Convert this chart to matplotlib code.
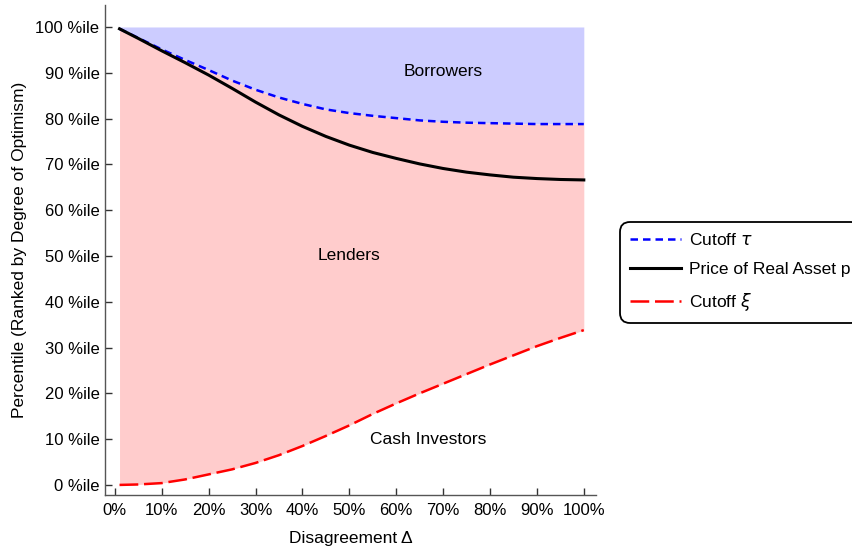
import matplotlib
matplotlib.use("Agg")
import matplotlib.pyplot as plt
import numpy as np

plt.rcParams['font.family'] = ['Liberation Sans', 'DejaVu Sans']

# Disagreement (%)
disagreement = [1, 5, 10, 15, 20, 25, 30, 35, 40, 45, 50, 55, 60, 65, 70, 75, 80, 85, 90, 95, 100]
# Cutoff tau (percentile)
cutoff_tau = [99.6, 97.6, 95.1, 92.8, 90.6, 88.3, 86.3, 84.6, 83.2, 82.0, 81.2, 80.6, 80.1, 79.6,
              79.3, 79.1, 79.0, 78.9, 78.8, 78.8, 78.8]
# Price of real asset p (percentile)
price_p = [99.6, 97.5, 94.8, 92.2, 89.5, 86.6, 83.6, 80.8, 78.3, 76.1, 74.2, 72.6, 71.3, 70.1,
           69.1, 68.3, 67.7, 67.2, 66.9, 66.7, 66.6]
# Cutoff xi (percentile)
cutoff_xi = [0.0, 0.1, 0.4, 1.2, 2.3, 3.4, 4.8, 6.5, 8.5, 10.7, 13.0, 15.5, 17.8, 20.0,
             22.1, 24.2, 26.3, 28.3, 30.3, 32.1, 33.8]

x_ticks = [0, 10, 20, 30, 40, 50, 60, 70, 80, 90, 100]
x_ticklabels = [f"{v}%" for v in x_ticks]
y_ticks = [0, 10, 20, 30, 40, 50, 60, 70, 80, 90, 100]
y_ticklabels = [f"{v} %ile" for v in y_ticks]

fig = plt.figure(figsize=(8.52, 5.48), dpi=100)
ax = fig.add_axes([105/852, 1-495/548, (596-105)/852, (495-5)/548])

x = np.array(disagreement)
tau = np.array(cutoff_tau)
p = np.array(price_p)
xi = np.array(cutoff_xi)

ax.fill_between(x, tau, 100, color='#ccccff', linewidth=0)
ax.fill_between(x, xi, tau, color='#ffcccc', linewidth=0)

l1, = ax.plot(x, tau, color='#0000ff', lw=1.8, linestyle=(0, (3.0, 2.0)), label=r'Cutoff $\tau$')
l2, = ax.plot(x, p, color='black', lw=2.2, label='Price of Real Asset p')
l3, = ax.plot(x, xi, color='#ff0000', lw=1.8, linestyle=(0, (7.5, 2.3)), label=r'Cutoff $\xi$')

ax.text(70, 90.3, 'Borrowers', ha='center', va='center', fontsize=12.5)
ax.text(50, 50.1, 'Lenders', ha='center', va='center', fontsize=12.5)
ax.text(66.8, 10, 'Cash Investors', ha='center', va='center', fontsize=12.5)

ax.set_xlim(-2.1, 102.6)
ax.set_ylim(-2.2, 104.8)
ax.set_xticks(x_ticks)
ax.set_xticklabels(x_ticklabels)
ax.set_yticks(y_ticks)
ax.set_yticklabels(y_ticklabels)
ax.tick_params(direction='in', length=5, width=1, colors='#333333', labelcolor='black', labelsize=12)
ax.tick_params(axis='x', pad=6)
ax.tick_params(axis='y', pad=4)

for s in ['top', 'right']:
    ax.spines[s].set_visible(False)
for s in ['left', 'bottom']:
    ax.spines[s].set_color('#555555')
    ax.spines[s].set_linewidth(1)

ax.set_xlabel('Disagreement Δ', fontsize=12.5, labelpad=9)
ax.set_ylabel('Percentile (Ranked by Degree of Optimism)', fontsize=12.5, labelpad=6)

leg = fig.legend(handles=[l1, l2, l3], loc='upper left',
                 bbox_to_anchor=(620/852, 1-222/548), bbox_transform=fig.transFigure,
                 borderaxespad=0, fontsize=12.5, handlelength=2.9, labelspacing=0.78,
                 borderpad=0.6, handletextpad=0.5, fancybox=True, framealpha=1)
frame = leg.get_frame()
frame.set_edgecolor('black')
frame.set_linewidth(1.3)
frame.set_boxstyle('round,pad=0,rounding_size=0.6')

fig.savefig('out.png', dpi=100)
